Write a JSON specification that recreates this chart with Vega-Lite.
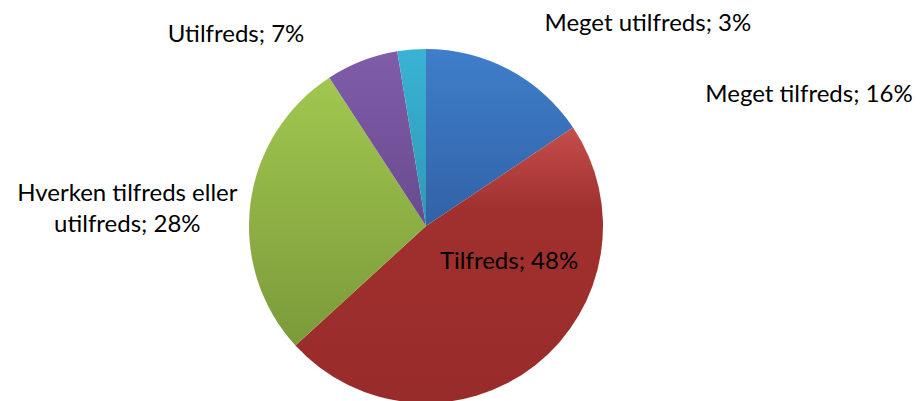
{
  "$schema": "https://vega.github.io/schema/vega-lite/v6.json",
  "width": 923,
  "height": 401,
  "autosize": {"type": "fit", "contains": "padding"},
  "padding": {"left": 13, "right": 58, "top": 40, "bottom": 3},
  "background": "white",
  "view": {"stroke": null},
  "config": {"text": {"font": "Lato", "fontSize": 24, "color": "black"}},
  "data": {
    "values": [
      {"orden": 1, "kategori": "Meget tilfreds", "andel": 15.6, "label": "Meget tilfreds; 16%"},
      {"orden": 2, "kategori": "Tilfreds", "andel": 47.6, "label": "Tilfreds; 48%"},
      {"orden": 3, "kategori": "Hverken tilfreds eller utilfreds", "andel": 27.6, "label": "Hverken tilfreds eller\nutilfreds; 28%"},
      {"orden": 4, "kategori": "Utilfreds", "andel": 6.6, "label": "Utilfreds; 7%"},
      {"orden": 5, "kategori": "Meget utilfreds", "andel": 2.6, "label": "Meget utilfreds; 3%"}
    ]
  },
  "transform": [
    {"window": [{"op": "sum", "field": "andel", "as": "slut"}], "sort": [{"field": "orden"}], "frame": [null, 0]},
    {"calculate": "datum.slut - datum.andel", "as": "start"},
    {"calculate": "datum.slut - datum.andel / 2", "as": "midt"}
  ],
  "layer": [
    {
      "transform": [{"filter": "datum.orden == 1"}],
      "mark": {"type": "arc", "radius": 177, "color": {"gradient": "linear", "x1": 0, "y1": 0, "x2": 0, "y2": 1, "stops": [{"offset": 0, "color": "#3F7ECB"}, {"offset": 1, "color": "#3162A6"}]}},
      "encoding": {
        "theta": {"field": "start", "type": "quantitative", "stack": null, "scale": {"domain": [0, 100]}},
        "theta2": {"field": "slut"}
      }
    },
    {
      "transform": [{"filter": "datum.orden == 2"}],
      "mark": {"type": "arc", "radius": 177, "color": {"gradient": "linear", "x1": 0, "y1": 0, "x2": 0, "y2": 1, "stops": [{"offset": 0, "color": "#C44F4C"}, {"offset": 0.3, "color": "#A0302E"}, {"offset": 1, "color": "#982C2A"}]}},
      "encoding": {
        "theta": {"field": "start", "type": "quantitative", "stack": null, "scale": {"domain": [0, 100]}},
        "theta2": {"field": "slut"}
      }
    },
    {
      "transform": [{"filter": "datum.orden == 3"}],
      "mark": {"type": "arc", "radius": 177, "color": {"gradient": "linear", "x1": 0, "y1": 0, "x2": 0, "y2": 1, "stops": [{"offset": 0, "color": "#A1C74F"}, {"offset": 1, "color": "#7B9A3A"}]}},
      "encoding": {
        "theta": {"field": "start", "type": "quantitative", "stack": null, "scale": {"domain": [0, 100]}},
        "theta2": {"field": "slut"}
      }
    },
    {
      "transform": [{"filter": "datum.orden == 4"}],
      "mark": {"type": "arc", "radius": 177, "color": {"gradient": "linear", "x1": 0, "y1": 0, "x2": 0, "y2": 1, "stops": [{"offset": 0, "color": "#805CA9"}, {"offset": 1, "color": "#684B8E"}]}},
      "encoding": {
        "theta": {"field": "start", "type": "quantitative", "stack": null, "scale": {"domain": [0, 100]}},
        "theta2": {"field": "slut"}
      }
    },
    {
      "transform": [{"filter": "datum.orden == 5"}],
      "mark": {"type": "arc", "radius": 177, "color": {"gradient": "linear", "x1": 0, "y1": 0, "x2": 0, "y2": 1, "stops": [{"offset": 0, "color": "#39B3D4"}, {"offset": 1, "color": "#2F98B5"}]}},
      "encoding": {
        "theta": {"field": "start", "type": "quantitative", "stack": null, "scale": {"domain": [0, 100]}},
        "theta2": {"field": "slut"}
      }
    },
    {
      "transform": [{"filter": "datum.orden == 1"}],
      "mark": {"type": "text", "radius": 245, "align": "left", "baseline": "middle", "dx": 164, "dy": 85},
      "encoding": {
        "theta": {"field": "midt", "type": "quantitative", "stack": null, "scale": {"domain": [0, 100]}},
        "text": {"field": "label"}
      }
    },
    {
      "transform": [{"filter": "datum.orden == 2"}],
      "mark": {"type": "text", "radius": 81, "align": "center", "baseline": "middle", "dx": 33, "dy": -28},
      "encoding": {
        "theta": {"field": "midt", "type": "quantitative", "stack": null, "scale": {"domain": [0, 100]}},
        "text": {"field": "label"}
      }
    },
    {
      "transform": [{"filter": "datum.orden == 3"}],
      "mark": {"type": "text", "radius": 298, "align": "center", "baseline": "middle", "dx": -3, "dy": 5, "lineBreak": "\n", "lineHeight": 31},
      "encoding": {
        "theta": {"field": "midt", "type": "quantitative", "stack": null, "scale": {"domain": [0, 100]}},
        "text": {"field": "label"}
      }
    },
    {
      "transform": [{"filter": "datum.orden == 4"}],
      "mark": {"type": "text", "radius": 220, "align": "right", "baseline": "middle", "dx": -42, "dy": 14},
      "encoding": {
        "theta": {"field": "midt", "type": "quantitative", "stack": null, "scale": {"domain": [0, 100]}},
        "text": {"field": "label"}
      }
    },
    {
      "transform": [{"filter": "datum.orden == 5"}],
      "mark": {"type": "text", "radius": 190, "align": "left", "baseline": "middle", "dx": 134, "dy": -13},
      "encoding": {
        "theta": {"field": "midt", "type": "quantitative", "stack": null, "scale": {"domain": [0, 100]}},
        "text": {"field": "label"}
      }
    }
  ]
}
